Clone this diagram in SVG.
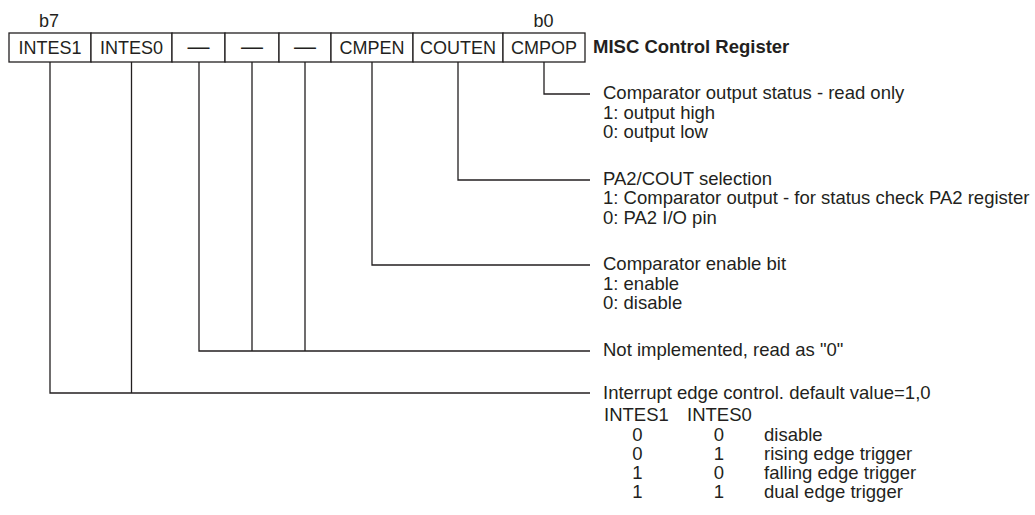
<svg xmlns="http://www.w3.org/2000/svg" width="1035" height="515" viewBox="0 0 1035 515">
<style>
text{font-family:"Liberation Sans",Arial,Helvetica,sans-serif;font-size:18px;fill:#231f20}
.d text,.b{font-size:18.5px}
.c{text-anchor:middle}
.b{font-weight:bold}
.dash{font-size:22px}
.cell{fill:#fff;stroke:#231f20;stroke-width:1.3}
.ln{fill:none;stroke:#231f20;stroke-width:1.3}
</style>
<rect width="1035" height="515" fill="#fff"/>
<g id="register">
<text class="c" x="49" y="26.5">b7</text>
<text class="c" x="543.5" y="26.5">b0</text>
<g id="bit7"><rect class="cell" x="9" y="33" width="82" height="29"/><text class="c" x="50" y="54">INTES1</text></g>
<g id="bit6"><rect class="cell" x="91" y="33" width="81" height="29"/><text class="c" x="131.5" y="54">INTES0</text></g>
<g id="bit5"><rect class="cell" x="172" y="33" width="53" height="29"/><text class="c dash" x="198.5" y="54">—</text></g>
<g id="bit4"><rect class="cell" x="225" y="33" width="54" height="29"/><text class="c dash" x="252" y="54">—</text></g>
<g id="bit3"><rect class="cell" x="279" y="33" width="52" height="29"/><text class="c dash" x="305" y="54">—</text></g>
<g id="bit2"><rect class="cell" x="331" y="33" width="82" height="29"/><text class="c" x="372" y="54">CMPEN</text></g>
<g id="bit1"><rect class="cell" x="413" y="33" width="90" height="29"/><text class="c" x="458" y="54">COUTEN</text></g>
<g id="bit0"><rect class="cell" x="503" y="33" width="82" height="29"/><text class="c" x="544" y="54">CMPOP</text></g>
<text class="b" x="593" y="53">MISC Control Register</text>
</g>
<g id="connectors">
<path class="ln" d="M544 62V94H590"/>
<path class="ln" d="M458 62V180H590"/>
<path class="ln" d="M372 62V265H590"/>
<path class="ln" d="M199 62V351H590M252 62V351M305 62V351"/>
<path class="ln" d="M50 62V393H590M131.5 62V393"/>
</g>
<g id="desc-cmpop" class="d">
<text x="603" y="99">Comparator output status - read only</text>
<text x="603" y="118.5">1: output high</text>
<text x="603" y="138">0: output low</text>
</g>
<g id="desc-couten" class="d">
<text x="603" y="185">PA2/COUT selection</text>
<text x="603" y="204">1: Comparator output - for status check PA2 register</text>
<text x="603" y="223.5">0: PA2 I/O pin</text>
</g>
<g id="desc-cmpen" class="d">
<text x="603" y="270">Comparator enable bit</text>
<text x="603" y="289.5">1: enable</text>
<text x="603" y="309">0: disable</text>
</g>
<g id="desc-reserved" class="d">
<text x="603" y="356">Not implemented, read as "0"</text>
</g>
<g id="desc-intes" class="d">
<text x="603" y="398.5">Interrupt edge control. default value=1,0</text>
<text x="604" y="421">INTES1</text>
<text x="687" y="421">INTES0</text>
<text class="c" x="637.5" y="440.5">0</text><text class="c" x="719" y="440.5">0</text><text x="764" y="440.5">disable</text>
<text class="c" x="637.5" y="459.7">0</text><text class="c" x="719" y="459.7">1</text><text x="764" y="459.7">rising edge trigger</text>
<text class="c" x="637.5" y="478.9">1</text><text class="c" x="719" y="478.9">0</text><text x="764" y="478.9">falling edge trigger</text>
<text class="c" x="637.5" y="498.1">1</text><text class="c" x="719" y="498.1">1</text><text x="764" y="498.1">dual edge trigger</text>
</g>
</svg>
